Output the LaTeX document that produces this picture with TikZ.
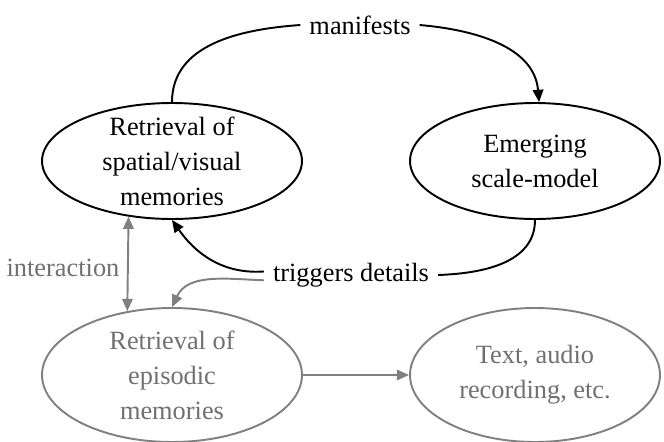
\documentclass[tikz,border=0pt]{standalone}
\usepackage{fontspec}
\setmainfont{Liberation Serif}
\usetikzlibrary{shapes.geometric,arrows.meta}
\definecolor{greyline}{RGB}{128,128,128}
\definecolor{greytext}{RGB}{112,112,112}

\begin{document}
\begin{tikzpicture}[x=0.02cm, y=0.02cm,
    every node/.style={font=\fontsize{15}{20}\selectfont},
    memory/.style={draw, ellipse, line width=1.1pt, inner sep=0pt, inner ysep=-14pt, align=center, minimum width=5.2cm, minimum height=2.32cm},
    faded/.style={draw=greyline, text=greytext, minimum height=2.68cm},
    caption/.style={inner xsep=5pt, inner ysep=2pt},
    arc/.style={line width=1.1pt, -{Triangle[length=7pt,width=6pt]}},
    plain/.style={line width=1.1pt},
    greyarc/.style={arc, draw=greyline}
    ]

    % Frame
    \useasboundingbox (0,0) rectangle (664,441);

    % Define ellipses
    \node[memory] (Spatial) at (172,280) {Retrieval of\\spatial/visual\\memories};
    \node[memory, minimum width=5.0cm] (Model) at (535,280) {Emerging\\scale-model};
    \node[memory, faded] (Episodic) at (172,66) {Retrieval of\\episodic\\memories};
    \node[memory, faded, minimum width=5.0cm] (Record) at (535,66) {Text, audio\\recording, etc.};

    % Define labels
    \node[caption] (Manifests) at (360,416) {manifests};
    \node[caption] (Triggers) at (351,166) {triggers details};
    \node[caption, text=greytext, inner xsep=2pt] (Interaction) at (63,173) {interaction};

    % Define edges
    \draw[plain] (Spatial.north) to[out=90, in=184] (Manifests.west);
    \draw[arc] (Manifests.east) to[out=-5, in=95] (Model.86);
    \draw[plain] (Model.south) to[out=-90, in=2] (Triggers.east);
    \draw[arc] ([yshift=2pt]Triggers.west) to[out=184, in=-55] (Spatial.south);
    \draw[greyarc] ([yshift=-3pt]Triggers.west) to[out=178, in=65] (Episodic.north);
    \draw[greyarc, {Triangle[length=7pt,width=6pt]}-{Triangle[length=7pt,width=6pt]}] (Spatial.232) -- (Episodic.125);
    \draw[greyarc] (Episodic.east) -- (Record.west);
\end{tikzpicture}
\end{document}
